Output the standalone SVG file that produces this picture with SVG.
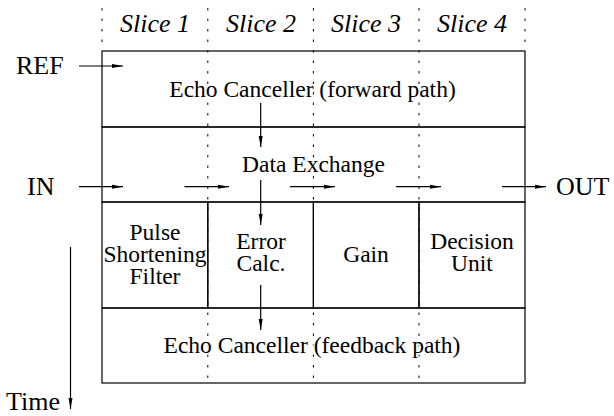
<svg xmlns="http://www.w3.org/2000/svg" width="614" height="416" viewBox="0 0 614 416">
<defs>
<marker id="ah" markerUnits="userSpaceOnUse" markerWidth="12" markerHeight="6" refX="11" refY="3" orient="auto">
<path d="M0,1 L11,3 L0,5 z" fill="#000"/>
</marker>
<style>
.lbl{font-size:26px}
.sl{font-size:26px;font-style:italic;text-anchor:middle}
.bt{font-size:23.5px;text-anchor:middle;stroke:#fff;stroke-width:3px;paint-order:stroke;stroke-linejoin:round}
.box{fill:none;stroke:#000;stroke-width:1.2}
.dash{stroke:#000;stroke-width:1;stroke-dasharray:2.5 8}
.arr{stroke:#000;stroke-width:1.2;fill:none;marker-end:url(#ah)}
</style>
</defs>
<g font-family="'Liberation Serif', Tinos, 'Times New Roman', Times, 'Nimbus Roman', 'DejaVu Serif', serif" fill="#000">
<g id="slices">
<line class="dash" x1="102" y1="8" x2="102" y2="50"/>
<line class="dash" x1="207.8" y1="8" x2="207.8" y2="383"/>
<line class="dash" x1="313.4" y1="8" x2="313.4" y2="383"/>
<line class="dash" x1="419" y1="8" x2="419" y2="383"/>
<line class="dash" x1="525" y1="8" x2="525" y2="50"/>
<text class="sl" x="155" y="31.5">Slice 1</text>
<text class="sl" x="261" y="31.5">Slice 2</text>
<text class="sl" x="366" y="31.5">Slice 3</text>
<text class="sl" x="472" y="31.5">Slice 4</text>
</g>
<g id="ec-forward">
<rect class="box" x="102" y="51" width="423" height="76"/>
<text class="bt" x="312.5" y="97">Echo Canceller (forward path)</text>
</g>
<g id="data-exchange">
<rect class="box" x="102" y="127" width="423" height="75"/>
<text class="bt" x="313.5" y="171.5">Data Exchange</text>
</g>
<g id="pulse">
<rect class="box" x="102" y="202" width="105.8" height="106"/>
<text class="bt" x="155" y="240">Pulse</text>
<text class="bt" x="155" y="262">Shortening</text>
<text class="bt" x="155" y="284">Filter</text>
</g>
<g id="error">
<rect class="box" x="207.8" y="202" width="105.6" height="106"/>
<text class="bt" x="261" y="249">Error</text>
<text class="bt" x="261" y="271">Calc.</text>
</g>
<g id="gain">
<rect class="box" x="313.4" y="202" width="105.6" height="106"/>
<text class="bt" x="366" y="262">Gain</text>
</g>
<g id="decision">
<rect class="box" x="419" y="202" width="106" height="106"/>
<text class="bt" x="472" y="249">Decision</text>
<text class="bt" x="472" y="271">Unit</text>
</g>
<g id="ec-feedback">
<rect class="box" x="102" y="308" width="423" height="75"/>
<text class="bt" x="312" y="353">Echo Canceller (feedback path)</text>
</g>
<g id="labels">
<text class="lbl" x="16" y="74">REF</text>
<text class="lbl" x="27" y="195">IN</text>
<text class="lbl" x="556" y="195">OUT</text>
<text class="lbl" x="6" y="410">Time</text>
</g>
<g id="connectors">
<line class="arr" x1="79" y1="66" x2="123" y2="66"/>
<line class="arr" x1="79" y1="186.7" x2="123" y2="186.7"/>
<line class="arr" x1="184.5" y1="186.7" x2="229" y2="186.7"/>
<line class="arr" x1="290" y1="186.7" x2="335" y2="186.7"/>
<line class="arr" x1="396" y1="186.7" x2="441" y2="186.7"/>
<line class="arr" x1="502" y1="186.7" x2="546" y2="186.7"/>
<line class="arr" x1="260.7" y1="103" x2="260.7" y2="147"/>
<line class="arr" x1="260.7" y1="180" x2="260.7" y2="225"/>
<line class="arr" x1="260.7" y1="285" x2="260.7" y2="330"/>
<line class="arr" x1="70.5" y1="247" x2="70.5" y2="409"/>
</g>
</g>
</svg>
